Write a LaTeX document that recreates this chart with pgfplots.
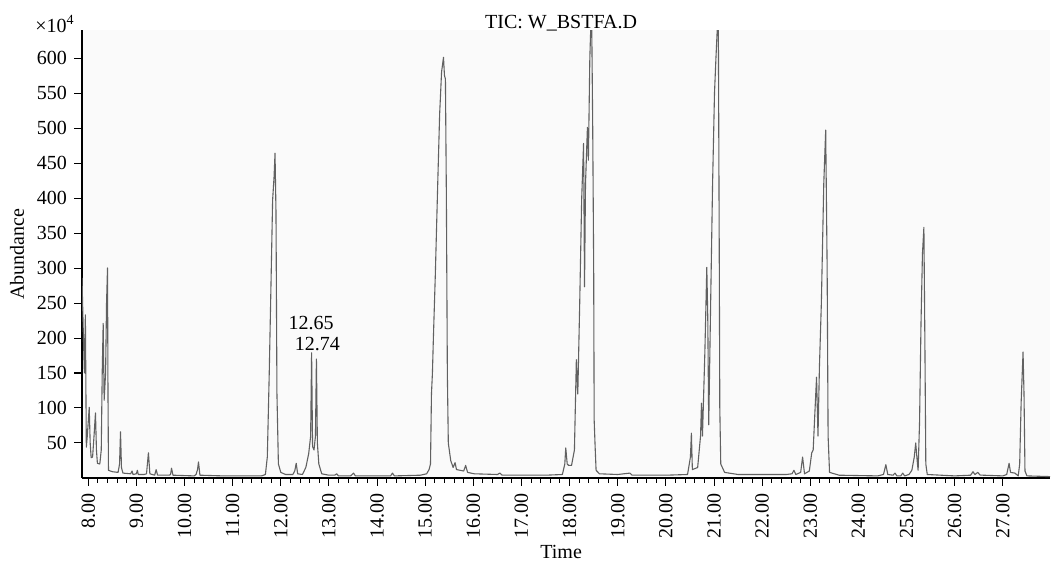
\documentclass[border=0pt]{standalone}
\usepackage{fontspec}
\setmainfont{Liberation Serif}
\usepackage{pgfplots}
\pgfplotsset{compat=1.18}
\usepackage{pgfplotstable}
\pgfplotstableread{
t y
7.87 286
7.90 200
7.92 150
7.94 233
7.96 44
7.98 60
8.02 101
8.04 50
8.06 29
8.09 30
8.12 60
8.15 93
8.17 40
8.19 21
8.24 20
8.27 40
8.29 150
8.31 221
8.33 111
8.36 150
8.38 250
8.40 300
8.41 120
8.42 11
8.50 9
8.62 8
8.65 20
8.67 66
8.69 15
8.72 7
8.88 6
8.91 10
8.93 5
9.00 6
9.02 11
9.04 5
9.16 5
9.21 6
9.25 36
9.28 6
9.38 4
9.41 12
9.44 4
9.68 4
9.71 5
9.73 14
9.76 4
10.20 3
10.24 5
10.27 12
10.29 23
10.32 4
10.80 3
11.60 3
11.68 5
11.72 30
11.76 150
11.80 290
11.83 397
11.86 430
11.88 464
11.90 380
11.92 120
11.95 20
12.00 8
12.10 5
12.25 5
12.29 10
12.32 21
12.35 6
12.45 5
12.52 15
12.58 35
12.62 60
12.64 179
12.66 45
12.69 40
12.72 60
12.74 170
12.76 50
12.79 20
12.85 6
13.00 4
13.12 4
13.16 6
13.20 3
13.45 3
13.51 7
13.55 3
14.28 3
14.32 7
14.36 3
14.90 4
15.03 6
15.08 12
15.11 20
15.13 120
15.15 150
15.17 200
15.21 290
15.26 420
15.30 520
15.34 580
15.38 601
15.40 575
15.42 570
15.44 400
15.46 150
15.48 50
15.53 25
15.58 15
15.62 22
15.65 12
15.80 10
15.84 18
15.88 8
16.02 6
16.50 5
16.55 7
16.60 4
17.50 4
17.85 5
17.90 20
17.92 43
17.95 20
17.98 18
18.04 18
18.10 40
18.14 169
18.17 120
18.21 250
18.25 397
18.29 478
18.31 273
18.33 420
18.37 501
18.39 454
18.42 600
18.44 645
18.46 645
18.48 500
18.50 300
18.51 83
18.53 45
18.55 11
18.62 6
19.00 5
19.25 7
19.30 4
20.00 4
20.45 5
20.51 30
20.53 64
20.55 12
20.66 15
20.72 60
20.74 107
20.76 60
20.81 180
20.85 301
20.87 230
20.89 76
20.93 250
20.97 420
21.01 550
21.04 600
21.07 645
21.09 645
21.11 300
21.12 100
21.14 20
21.22 8
21.50 5
22.50 5
22.62 6
22.66 11
22.70 5
22.80 8
22.84 30
22.88 6
22.98 10
23.03 36
23.06 40
23.10 100
23.13 144
23.16 60
23.19 159
23.23 250
23.28 420
23.32 497
23.35 300
23.37 60
23.40 8
23.60 4
24.40 3
24.52 5
24.57 19
24.61 5
24.72 4
24.76 7
24.80 3
24.88 3
24.92 7
24.96 3
25.05 5
25.11 11
25.16 30
25.19 50
25.22 25
25.24 11
25.27 80
25.30 221
25.33 320
25.36 358
25.38 200
25.40 20
25.43 5
26.00 3
26.33 4
26.38 9
26.42 5
26.48 8
26.53 4
26.59 4
27.00 3
27.08 5
27.13 21
27.16 8
27.25 7
27.32 3
27.35 20
27.38 107
27.42 180
27.44 120
27.46 10
27.50 3
27.98 2
}\tic
\begin{document}
\fontsize{10}{12}\selectfont
\begin{tikzpicture}
\begin{axis}[
  name=ax,
  scale only axis, width=484pt, height=224pt,
  xmin=7.87, xmax=27.98, ymin=0, ymax=640,
  axis x line*=bottom, axis y line*=left,
  axis line style={-, black, line width=0.6pt},
  axis background/.style={fill=black!2},
  clip mode=individual,
  tick align=outside,
  major tick length=4pt, minor tick length=2.5pt,
  tick style={black, line width=0.5pt},
  xtick={8,...,27}, minor x tick num=4,
  ytick={50,100,...,600},
  /pgf/number format/assume math mode=true,
  every tick label/.append style={font=\fontsize{10}{12}\selectfont},
  xticklabel={\pgfmathprintnumber[fixed,fixed zerofill,precision=2]{\tick}},
  xticklabel style={rotate=90, anchor=east},
  yticklabel style={/pgf/number format/fixed},
  xlabel={Time}, ylabel={Abundance},
  xlabel style={at={(axis description cs:0.495,-0.165)}, anchor=center, font=\fontsize{10}{12}\selectfont},
  ylabel style={at={(axis description cs:-0.067,0.5)}, anchor=center, font=\fontsize{10}{12}\selectfont},
  title={TIC: W\_BSTFA.D},
  title style={at={(axis description cs:0.495,1)}, anchor=base, yshift=-5pt, font=\fontsize{10}{12}\selectfont},
]
\addplot[color=black!62, line width=0.55pt, line join=round] table[x=t, y=y] {\tic};
\node[anchor=base, inner sep=0pt] at (axis cs:12.63,212) {12.65};
\node[anchor=base, inner sep=0pt] at (axis cs:12.76,182) {12.74};
\node[anchor=base east, inner sep=0pt] at (rel axis cs:0,1) [xshift=-3.5pt, yshift=-1pt] {×10\textsuperscript{4}};
\end{axis}
\pgfresetboundingbox
\path[use as bounding box] ([shift={(-41pt,-44.5pt)}]ax.south west) rectangle ([shift={(2pt,15pt)}]ax.north east);
\end{tikzpicture}
\end{document}
